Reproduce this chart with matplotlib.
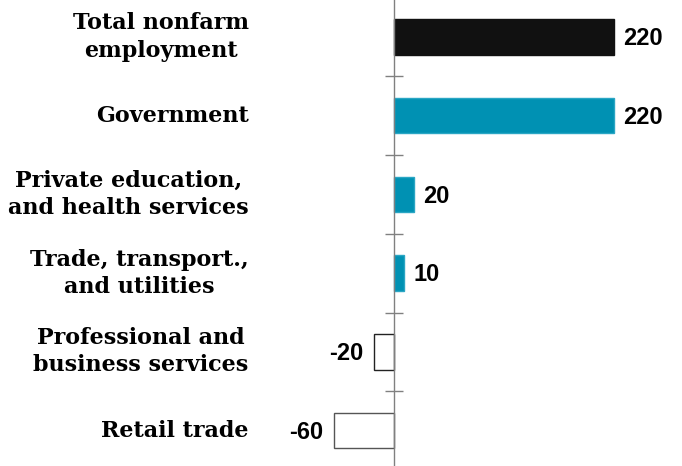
import matplotlib.pyplot as plt

# employment change by sector (thousands)
categories = ["Total nonfarm\nemployment", "Government", "Private education,\nand health services",
              "Trade, transport.,\nand utilities", "Professional and\nbusiness services", "Retail trade"]
values = [220, 220, 20, 10, -20, -60]
value_labels = ["220", "220", "20", "10", "-20", "-60"]

fig = plt.figure(figsize=(6.82, 4.66), dpi=100)
ax = fig.add_axes([0, 0, 1, 1])

ypos = list(range(len(categories)))
colors = []
edges = []
for i, v in enumerate(values):
    if i == 0:
        colors.append("#111111")
        edges.append("#111111")
    elif v >= 0:
        colors.append("#0091b3")
        edges.append("#2aa6c4")
    else:
        colors.append("white")
        edges.append("#222222" if v > -40 else "#555555")

ax.barh(ypos, values, height=0.45, color=colors, edgecolor=edges, linewidth=1.0)

for y, v, lab in zip(ypos, values, value_labels):
    if v >= 0:
        ax.text(v + 10, y + 0.02, lab, ha="left", va="center", fontsize=17, fontweight="bold",
                family="Liberation Sans")
    else:
        ax.text(v - 10, y + 0.02, lab, ha="right", va="center", fontsize=17, fontweight="bold",
                family="Liberation Sans")

for y, cat in zip(ypos, categories):
    ax.text(-145, y, cat, ha="right", va="center", multialignment="center", fontsize=16,
            fontweight="bold", family="DejaVu Serif", linespacing=1.3)

ax.set_xlim(-393.5, 288.5)
ax.set_ylim(5.45, -0.47)

for s in ["top", "right", "bottom"]:
    ax.spines[s].set_visible(False)
ax.spines["left"].set_position(("data", 0))
ax.spines["left"].set_color("#808080")
ax.spines["left"].set_linewidth(1.0)
ax.set_xticks([])
ax.set_yticks([0.5, 1.5, 2.5, 3.5, 4.5])
ax.set_yticklabels([])
ax.tick_params(axis="y", direction="inout", length=13, color="#808080", width=1.0)

fig.savefig("out.png", dpi=100)
